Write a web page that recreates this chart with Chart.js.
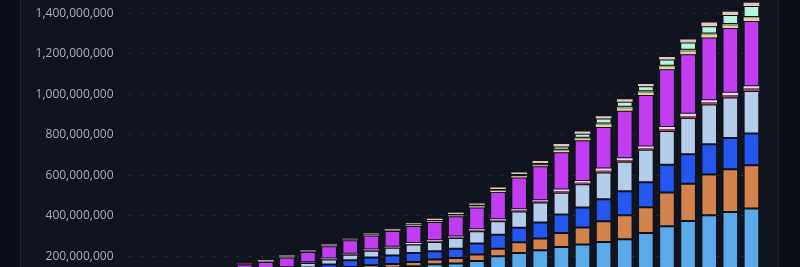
<!DOCTYPE html>
<html>
<head>
<meta charset="utf-8">
<script src="https://cdn.jsdelivr.net/npm/chart.js@4.4.1/dist/chart.umd.min.js"></script>
<style>
  html, body { margin: 0; padding: 0; width: 800px; height: 267px; overflow: hidden; background: #0a0e15; }
  #panel { position: absolute; left: 20px; top: 0; width: 757px; height: 267px; background: #0f141e;
           border-left: 1px solid #1c2230; border-right: 1px solid #1c2230; }
  #wrap { position: absolute; left: 20px; top: -29px; width: 758px; height: 348px; }
</style>
</head>
<body>
<div id="panel"></div>
<div id="wrap"><canvas id="stackChart"></canvas></div>
<script>
/*
 * Values, in millions. Bottom series first.
 */
const years = [1995, 1996, 1997, 1998, 1999, 2000, 2001, 2002, 2003, 2004, 2005, 2006, 2007, 2008, 2009,
               2010, 2011, 2012, 2013, 2014, 2015, 2016, 2017, 2018, 2019, 2020, 2021, 2022, 2023, 2024];

const lightBlue = [23, 29, 34, 43, 51, 67, 74, 88, 107, 117, 133, 140, 144, 151, 161, 164, 177, 200, 216, 230, 246, 258, 271, 284, 315, 348, 374, 403, 419, 436];
const orange    = [3, 4, 5, 6, 7, 8, 9, 10, 11, 12, 14, 16, 18, 21, 23, 28, 32, 38, 54, 58, 69, 84, 102, 119, 128, 167, 185, 201, 211, 214];
const blue      = [9, 11, 13, 15, 18, 20, 22, 24, 27, 30, 33, 38, 42, 44, 41, 46, 54, 69, 71, 79, 92, 99, 109, 119, 123, 138, 145, 150, 155, 157];
const paleBlue  = [8, 9, 11, 13, 15, 17, 18, 20, 22, 25, 28, 33, 38, 42, 46, 52, 61, 66, 81, 99, 107, 115, 132, 145, 160, 166, 179, 196, 200, 210];
const maroon    = [1, 1, 1, 1, 1, 2, 2, 2, 2, 2, 2, 3, 2, 3, 3, 3, 4, 4, 4, 5, 7, 7, 9, 8, 7, 9, 10, 10, 11, 12];
const lavender  = [1, 1, 1, 2, 2, 2, 2, 2, 2, 3, 3, 4, 3, 5, 5, 5, 6, 6, 6, 6, 9, 9, 11, 9, 9, 11, 12, 11, 12, 11];
const purple    = [22, 26, 30, 35, 40, 43, 45, 48, 50, 61, 66, 69, 78, 84, 90, 100, 107, 135, 157, 168, 184, 201, 205, 235, 255, 285, 293, 310, 320, 323];
const tan       = [1, 1, 1, 1, 1, 1, 1, 2, 2, 2, 2, 2, 2, 3, 4, 4, 5, 5, 6, 5, 8, 8, 10, 12, 11, 11, 14, 12, 12, 15];
const green     = [0, 1, 1, 1, 1, 1, 1, 1, 1, 1, 1, 1, 1, 1, 1, 1, 2, 2, 2, 3, 5, 5, 7, 8, 7, 7, 9, 8, 8, 4];
const mint      = [1, 1, 1, 1, 2, 2, 2, 2, 2, 2, 2, 3, 3, 4, 6, 6, 7, 8, 10, 8, 16, 20, 25, 25, 25, 30, 35, 36, 44, 55];
const pink      = [1, 1, 2, 2, 2, 2, 4, 5, 3, 3, 3, 4, 4, 5, 6, 6, 6, 7, 7, 10, 12, 11, 11, 12, 12, 13, 15, 18, 16, 16];

const yTicks = [0, 200e6, 400e6, 600e6, 800e6, 1000e6, 1200e6, 1400e6];

// colour, and whether the segment is big enough to get an edge line
const series = [
    [lightBlue, '#5aa9e8', 1],
    [orange,    '#d4834c', 1],
    [blue,      '#2456f0', 1],
    [paleBlue,  '#b3cdea', 1],
    [maroon,    '#9c4656', 0],
    [lavender,  '#ead6f6', 0],
    [purple,    '#c23cf2', 1],
    [tan,       '#e6cfa0', 0],
    [green,     '#8aa862', 0],
    [mint,      '#b2f6e0', 1],
    [pink,      '#e9c6ba', 0]
];

const ctx = document.getElementById('stackChart').getContext('2d');

const stackChart = new Chart(ctx, {
    type: 'bar',
    data: {
        labels: years,
        datasets: series.map(([values, color, edge]) => ({
            data: values.map(v => v * 1e6),
            backgroundColor: color,
            borderColor: 'rgba(8, 10, 16, 0.25)',
            borderWidth: edge,
            borderSkipped: false,
            barPercentage: 1.0,
            categoryPercentage: 0.74
        }))
    },
    options: {
        responsive: true,
        maintainAspectRatio: false,
        animation: false,
        layout: { padding: { top: 10, right: 16, bottom: 10, left: 0 } },
        plugins: {
            legend: { display: false },
            tooltip: { enabled: false }
        },
        scales: {
            x: {
                stacked: true,
                display: false
            },
            y: {
                stacked: true,
                min: 0,
                max: 1.5e9,
                afterFit: (scale) => { scale.width = 108.5; },
                afterBuildTicks: (scale) => { scale.ticks = yTicks.map(v => ({ value: v })); },
                border: { display: false, dash: [2, 10] },
                grid: {
                    color: '#2b3240',
                    lineWidth: 1,
                    drawTicks: false
                },
                ticks: {
                    padding: 15,
                    color: '#a9b0bb',
                    font: { family: 'Open Sans', size: 12 },
                    callback: (v) => Number(v).toLocaleString('en-US')
                }
            }
        }
    }
});
</script>
</body>
</html>
